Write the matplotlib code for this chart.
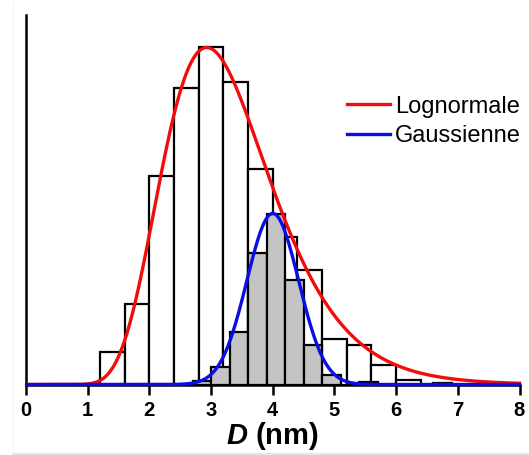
import numpy as np
import matplotlib
matplotlib.use('Agg')
import matplotlib.pyplot as plt
from matplotlib.lines import Line2D

# ---------------- data ----------------
lognormal_bin_start = 1.2
lognormal_bin_width = 0.4
lognormal_counts = [16.5, 40.5, 104.5, 148.5, 169, 151.5, 108, 74, 57.5, 23, 20, 10, 2.5]

gauss_bin_start = 2.7
gauss_bin_width = 0.3
gauss_counts = [2, 9, 26.5, 66, 85.5, 52.5, 20, 5, 0, 1.5, 0, 0, 0, 1]

# fitted curve parameters
lognormal_mode = 2.93
lognormal_sigma = 0.30
lognormal_peak = 168.5
gauss_center = 4.0
gauss_sigma = 0.42
gauss_peak = 85.5

xticks = [0, 1, 2, 3, 4, 5, 6, 7, 8]
legend_labels = ['Lognormale', 'Gaussienne']

# ---------------- style ----------------
plt.rcParams['font.family'] = ['Liberation Sans', 'DejaVu Sans']
plt.rcParams['mathtext.fontset'] = 'custom'
plt.rcParams['mathtext.rm'] = 'Liberation Sans:bold'
plt.rcParams['mathtext.bf'] = 'Liberation Sans:bold'
plt.rcParams['mathtext.it'] = 'Liberation Sans:italic'
plt.rcParams['mathtext.bfit'] = 'Liberation Sans:italic:bold'

W, H = 529, 455
fig = plt.figure(figsize=(W / 100, H / 100), dpi=100)
ax = fig.add_axes([26 / W, 1 - 384.5 / H, (519.5 - 26) / W, (384.5 - 15) / H])

red = '#f20c0c'
blue = '#0c0ce6'

# white (lognormal) histogram
ln_edges = lognormal_bin_start + lognormal_bin_width * np.arange(len(lognormal_counts))
ax.bar(ln_edges, lognormal_counts, width=lognormal_bin_width, align='edge',
       facecolor='white', edgecolor='black', linewidth=1.6, zorder=2)

# grey (gaussian) histogram
g_counts = np.array(gauss_counts, dtype=float)
g_edges = gauss_bin_start + gauss_bin_width * np.arange(len(g_counts))
mask = g_counts > 0
ax.bar(g_edges[mask], g_counts[mask], width=gauss_bin_width, align='edge',
       facecolor='#c4c4c4', edgecolor='black', linewidth=1.6, zorder=3)

# curves
x = np.linspace(0.01, 8, 1200)
mu = np.log(lognormal_mode) + lognormal_sigma ** 2
ln_pdf = np.exp(-(np.log(x) - mu) ** 2 / (2 * lognormal_sigma ** 2)) / x
ln_pdf = ln_pdf / ln_pdf.max() * lognormal_peak
g_pdf = gauss_peak * np.exp(-(x - gauss_center) ** 2 / (2 * gauss_sigma ** 2))

ax.plot(x, ln_pdf, color=red, lw=2.4, zorder=4, clip_on=False)
ax.plot(x, g_pdf, color=blue, lw=2.4, zorder=5, clip_on=False)

# axes
ax.set_xlim(0, 8)
ax.set_ylim(0, (384.5 - 15) / 2)
for s in ['top', 'right']:
    ax.spines[s].set_visible(False)
for s in ['left', 'bottom']:
    ax.spines[s].set_linewidth(1.8)
    ax.spines[s].set_color('black')
ax.set_yticks([])
ax.set_xticks(xticks)
ax.set_xticklabels([str(t) for t in xticks], fontsize=14.5, fontweight='bold')
ax.tick_params(axis='x', direction='out', length=7.5, width=1.8, pad=4.5)
ax.set_xlabel(r'$\mathbfit{D}$ (nm)', fontsize=21, fontweight='bold', labelpad=0)

# legend
handles = [Line2D([], [], color=red, lw=2.4), Line2D([], [], color=blue, lw=2.4)]
ax.legend(handles, legend_labels, loc='upper left',
          bbox_to_anchor=(346.7 / W, 1 - 95.5 / H), bbox_transform=fig.transFigure,
          frameon=False, fontsize=17, handlelength=1.83, handletextpad=0.2,
          borderpad=0, borderaxespad=0, labelspacing=0.32)

# faint scan border lines
fig.add_artist(Line2D([12.5 / W, 12.5 / W], [0.005, 1], color='#e4e4e4', lw=0.8, linestyle=':'))
fig.add_artist(Line2D([12.5 / W, 1], [1 - 453.5 / H, 1 - 453.5 / H], color='#e0e0e0', lw=1.2))

fig.savefig('out.png', dpi=100)
